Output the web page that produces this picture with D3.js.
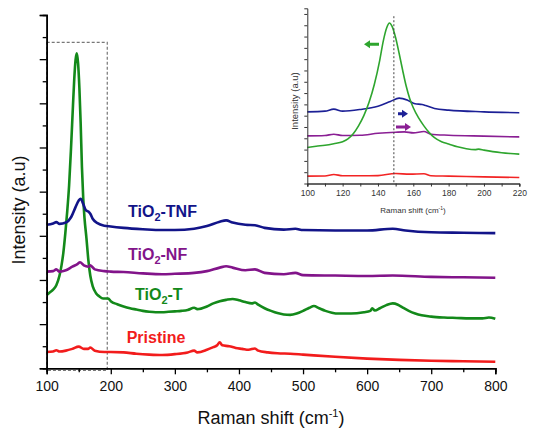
<!DOCTYPE html>
<html>
<head>
<meta charset="utf-8">
<script src="https://cdn.jsdelivr.net/npm/d3@7"></script>
<style>
  body { margin: 0; background: #fff; }
  svg { display: block; font-family: "Liberation Sans", Arial, sans-serif; }
</style>
</head>
<body>
<script>
// main spectra, [Raman shift, intensity (a.u., stacked)]
var pristine = [[100,0.37],[110,0.38],[115,0.41],[120,0.38],[130,0.40],[140,0.44],[150,0.49],[158,0.44],[165,0.44],[168,0.47],[175,0.40],[190,0.37],[200,0.37],[220,0.36],[240,0.33],[260,0.31],[280,0.30],[300,0.32],[320,0.36],[330,0.40],[335,0.36],[350,0.42],[360,0.48],[366,0.52],[370,0.59],[374,0.52],[385,0.50],[395,0.46],[405,0.44],[415,0.42],[425,0.45],[430,0.40],[445,0.36],[460,0.34],[480,0.33],[500,0.31],[550,0.26],[600,0.22],[650,0.19],[700,0.17],[750,0.16],[800,0.15]];
var tio2T = [[100,1.66],[105,1.72],[110,1.78],[115,1.88],[120,2.10],[123,2.32],[126,2.62],[129,3.05],[132,3.55],[135,4.15],[138,5.00],[141,5.95],[143,6.55],[145,6.98],[147,7.13],[149,6.90],[151,6.35],[153,5.55],[155,4.55],[157,3.85],[159,3.40],[162,2.95],[165,2.45],[168,2.10],[172,1.85],[177,1.70],[182,1.63],[188,1.58],[196,1.58],[200,1.52],[210,1.45],[220,1.40],[230,1.36],[240,1.33],[250,1.30],[260,1.28],[270,1.27],[280,1.27],[290,1.28],[300,1.29],[310,1.30],[320,1.32],[330,1.37],[335,1.34],[350,1.40],[360,1.47],[370,1.52],[380,1.55],[390,1.57],[400,1.54],[410,1.50],[420,1.47],[425,1.49],[430,1.44],[440,1.36],[450,1.30],[460,1.25],[470,1.22],[480,1.21],[490,1.24],[500,1.30],[510,1.37],[517,1.41],[525,1.36],[535,1.30],[545,1.26],[555,1.24],[575,1.24],[595,1.27],[605,1.30],[608,1.36],[612,1.31],[620,1.36],[630,1.43],[640,1.47],[648,1.44],[655,1.38],[665,1.30],[675,1.24],[685,1.20],[700,1.17],[720,1.15],[740,1.14],[760,1.13],[780,1.13],[790,1.15],[800,1.12]];
var tio2NF = [[100,2.19],[110,2.20],[115,2.24],[120,2.19],[130,2.22],[140,2.30],[148,2.36],[152,2.40],[158,2.33],[165,2.30],[168,2.33],[175,2.24],[190,2.20],[200,2.19],[220,2.18],[250,2.15],[280,2.13],[300,2.14],[330,2.16],[350,2.20],[370,2.28],[380,2.31],[390,2.28],[410,2.22],[425,2.24],[440,2.16],[470,2.13],[488,2.16],[500,2.11],[550,2.10],[600,2.09],[640,2.10],[700,2.07],[750,2.06],[800,2.05]];
var tio2TNF = [[100,3.25],[110,3.28],[115,3.31],[120,3.27],[130,3.30],[138,3.42],[145,3.65],[150,3.80],[153,3.84],[157,3.72],[161,3.58],[165,3.55],[168,3.50],[172,3.38],[180,3.28],[190,3.23],[200,3.21],[220,3.18],[250,3.15],[280,3.13],[300,3.13],[330,3.16],[350,3.22],[370,3.32],[380,3.35],[390,3.30],[410,3.25],[425,3.24],[440,3.18],[470,3.14],[488,3.16],[500,3.13],[550,3.12],[600,3.12],[640,3.16],[660,3.12],[700,3.08],[750,3.07],[800,3.06]];

// inset (zoom of 100-220 cm-1)
var insetPristine = [[100,0.65],[110,0.66],[115,0.80],[120,0.68],[130,0.68],[140,0.70],[150,0.88],[158,0.83],[166,0.86],[170,0.68],[180,0.65],[200,0.59],[220,0.53]];
var insetT = [[100,3.19],[105,3.30],[110,3.38],[115,3.52],[120,3.70],[123,3.95],[126,4.40],[129,5.10],[132,6.00],[135,7.20],[138,8.80],[141,10.9],[143,12.6],[145,13.8],[146.5,14.2],[148,13.9],[150,12.9],[152,11.5],[154,10.0],[156,8.60],[158,7.50],[160,6.70],[163,5.80],[166,5.10],[169,4.50],[172,4.05],[176,3.70],[180,3.50],[185,3.25],[190,3.08],[195,3.00],[197,3.04],[200,2.95],[205,2.82],[210,2.72],[215,2.65],[220,2.60]];
var insetNF = [[100,4.21],[110,4.25],[115,4.36],[120,4.24],[130,4.27],[140,4.44],[150,4.54],[155,4.57],[160,4.48],[166,4.60],[170,4.36],[180,4.27],[200,4.19],[220,4.12]];
var insetTNF = [[100,6.34],[110,6.40],[115,6.58],[120,6.40],[130,6.55],[140,6.84],[147,7.25],[152,7.55],[157,7.35],[161,7.05],[165,6.99],[167,6.90],[172,6.64],[180,6.49],[200,6.34],[220,6.26]];

var xTicks = [100, 200, 300, 400, 500, 600, 700, 800];
var insetXTicks = [100, 120, 140, 160, 180, 200, 220];
var zoomBox = [100, 194.5];   // dashed box range on main plot
var peakLine = 149;           // dashed line in inset

var w = 537, h = 428;
var svg = d3.select("body").append("svg").attr("width", w).attr("height", h);

// ---------- main plot ----------
var x = d3.scaleLinear().domain([100, 800]).range([46.7, 495.3]);
var y = d3.scaleLinear().domain([0, 8]).range([368.3, 15]);

var line = d3.line()
  .x(function(d) { return x(d[0]); })
  .y(function(d) { return y(d[1]); })
  .curve(d3.curveMonotoneX);

var series = [
  { data: pristine, color: "#f21c1c" },
  { data: tio2T, color: "#13891a" },
  { data: tio2NF, color: "#82148a" },
  { data: tio2TNF, color: "#121489" }
];

// dashed zoom box
svg.append("rect")
  .attr("x", x(zoomBox[0]))
  .attr("y", y(7.38))
  .attr("width", x(zoomBox[1]) - x(zoomBox[0]))
  .attr("height", y(-0.05) - y(7.38))
  .attr("fill", "none")
  .attr("stroke", "#777")
  .attr("stroke-width", 1.2)
  .attr("stroke-dasharray", "3,2");

series.forEach(function(s) {
  svg.append("path")
    .datum(s.data)
    .attr("d", line)
    .attr("fill", "none")
    .attr("stroke", s.color)
    .attr("stroke-width", 2.6)
    .attr("stroke-linejoin", "round");
});

// axes: major + minor ticks
var gx = svg.append("g").attr("transform", "translate(0," + y(0) + ")");
gx.call(d3.axisBottom(x).tickValues(d3.range(150, 800, 100)).tickSize(4).tickFormat(""));
gx.call(function(g) {
  g.append("g").call(d3.axisBottom(x).tickValues(xTicks).tickSize(6).tickPadding(7));
});
gx.selectAll(".domain").attr("stroke", "#000").attr("stroke-width", 1.6);
gx.selectAll(".tick line").attr("stroke", "#000").attr("stroke-width", 1.3);
gx.selectAll("text").attr("font-size", 14).attr("fill", "#111")
  .attr("font-family", "Liberation Sans, Arial, sans-serif");

var gy = svg.append("g").attr("transform", "translate(" + x(100) + ",0)");
gy.call(d3.axisLeft(y).tickValues(d3.range(0.5, 8, 1)).tickSize(4).tickFormat(""));
gy.append("g").call(d3.axisLeft(y).tickValues(d3.range(0, 9, 1)).tickSize(7).tickFormat(""));
gy.selectAll(".domain").attr("stroke", "#000").attr("stroke-width", 1.6);
gy.selectAll(".tick line").attr("stroke", "#000").attr("stroke-width", 1.3);

// axis titles
var xt = svg.append("text").attr("x", 271).attr("y", 424).attr("text-anchor", "middle")
  .attr("font-size", 18).attr("fill", "#111").text("Raman shift (cm");
xt.append("tspan").attr("dy", -7).attr("font-size", 11).text("-1");
xt.append("tspan").attr("dy", 7).text(")");

svg.append("text")
  .attr("transform", "translate(25,210) rotate(-90)")
  .attr("text-anchor", "middle")
  .attr("font-size", 18).attr("fill", "#111")
  .text("Intensity (a.u)");

// series labels
function tioLabel(px, py, suffix, color) {
  var t = svg.append("text").attr("x", px).attr("y", py)
    .attr("font-size", 16).attr("font-weight", "bold").attr("fill", color).text("TiO");
  t.append("tspan").attr("dy", 4).attr("font-size", 11).text("2");
  t.append("tspan").attr("dy", -4).text(suffix);
}
tioLabel(128, 216.5, "-TNF", "#121489");
tioLabel(128, 259.5, "-NF", "#82148a");
tioLabel(135, 300, "-T", "#13891a");
svg.append("text").attr("x", 126.7).attr("y", 343)
  .attr("font-size", 16).attr("font-weight", "bold").attr("fill", "#f21c1c").text("Pristine");

// ---------- inset ----------
var ix = d3.scaleLinear().domain([100, 220]).range([307.3, 519.3]);
var iy = d3.scaleLinear().domain([0, 15.5]).range([183.5, 8.3]);

var iline = d3.line()
  .x(function(d) { return ix(d[0]); })
  .y(function(d) { return iy(d[1]); })
  .curve(d3.curveMonotoneX);

var insetSeries = [
  { data: insetPristine, color: "#f22424" },
  { data: insetNF, color: "#8a1f94" },
  { data: insetTNF, color: "#1c2096" },
  { data: insetT, color: "#2ea52e" }
];
insetSeries.forEach(function(s) {
  svg.append("path")
    .datum(s.data)
    .attr("d", iline)
    .attr("fill", "none")
    .attr("stroke", s.color)
    .attr("stroke-width", 1.6);
});

svg.append("line")
  .attr("x1", ix(peakLine)).attr("x2", ix(peakLine))
  .attr("y1", iy(14.8)).attr("y2", iy(0))
  .attr("stroke", "#444").attr("stroke-width", 1)
  .attr("stroke-dasharray", "2,2");

var igx = svg.append("g").attr("transform", "translate(0," + iy(0) + ")");
igx.call(d3.axisBottom(ix).tickValues(d3.range(110, 220, 20)).tickSize(3).tickFormat(""));
igx.append("g").call(d3.axisBottom(ix).tickValues(insetXTicks).tickSize(3).tickPadding(3));
igx.selectAll(".domain").attr("stroke", "#333").attr("stroke-width", 1);
igx.selectAll(".tick line").attr("stroke", "#333");
igx.selectAll("text").attr("font-size", 8.5).attr("fill", "#333")
  .attr("font-family", "Liberation Sans, Arial, sans-serif");

var igy = svg.append("g").attr("transform", "translate(" + ix(100) + ",0)");
igy.call(d3.axisLeft(iy).tickValues(d3.range(1, 16, 1)).tickSize(3).tickFormat(""));
igy.selectAll(".domain").attr("stroke", "#333").attr("stroke-width", 1);
igy.selectAll(".tick line").attr("stroke", "#333");

var ixt = svg.append("text").attr("x", 413).attr("y", 213).attr("text-anchor", "middle")
  .attr("font-size", 8).attr("fill", "#333").text("Raman shift (cm");
ixt.append("tspan").attr("dy", -3).attr("font-size", 5).text("-1");
ixt.append("tspan").attr("dy", 3).text(")");

svg.append("text")
  .attr("transform", "translate(298,101) rotate(-90)")
  .attr("text-anchor", "middle")
  .attr("font-size", 9.5).attr("fill", "#333")
  .text("Intensity (a.u)");

// shift arrows
function arrow(x0, x1, yy, color) {
  var dir = x1 > x0 ? 1 : -1;
  var head = 6;
  var xh = x1 - dir * head;
  svg.append("path")
    .attr("d", "M" + x0 + "," + (yy - 1.5) + "L" + xh + "," + (yy - 1.5) + "L" + xh + "," + (yy - 4) +
      "L" + x1 + "," + yy + "L" + xh + "," + (yy + 4) + "L" + xh + "," + (yy + 1.5) + "L" + x0 + "," + (yy + 1.5) + "Z")
    .attr("fill", color);
}
arrow(379, 364, 44.3, "#2ea52e");
arrow(398, 408, 113.7, "#1c2096");
arrow(396, 411, 127, "#8a1f94");
</script>
</body>
</html>
